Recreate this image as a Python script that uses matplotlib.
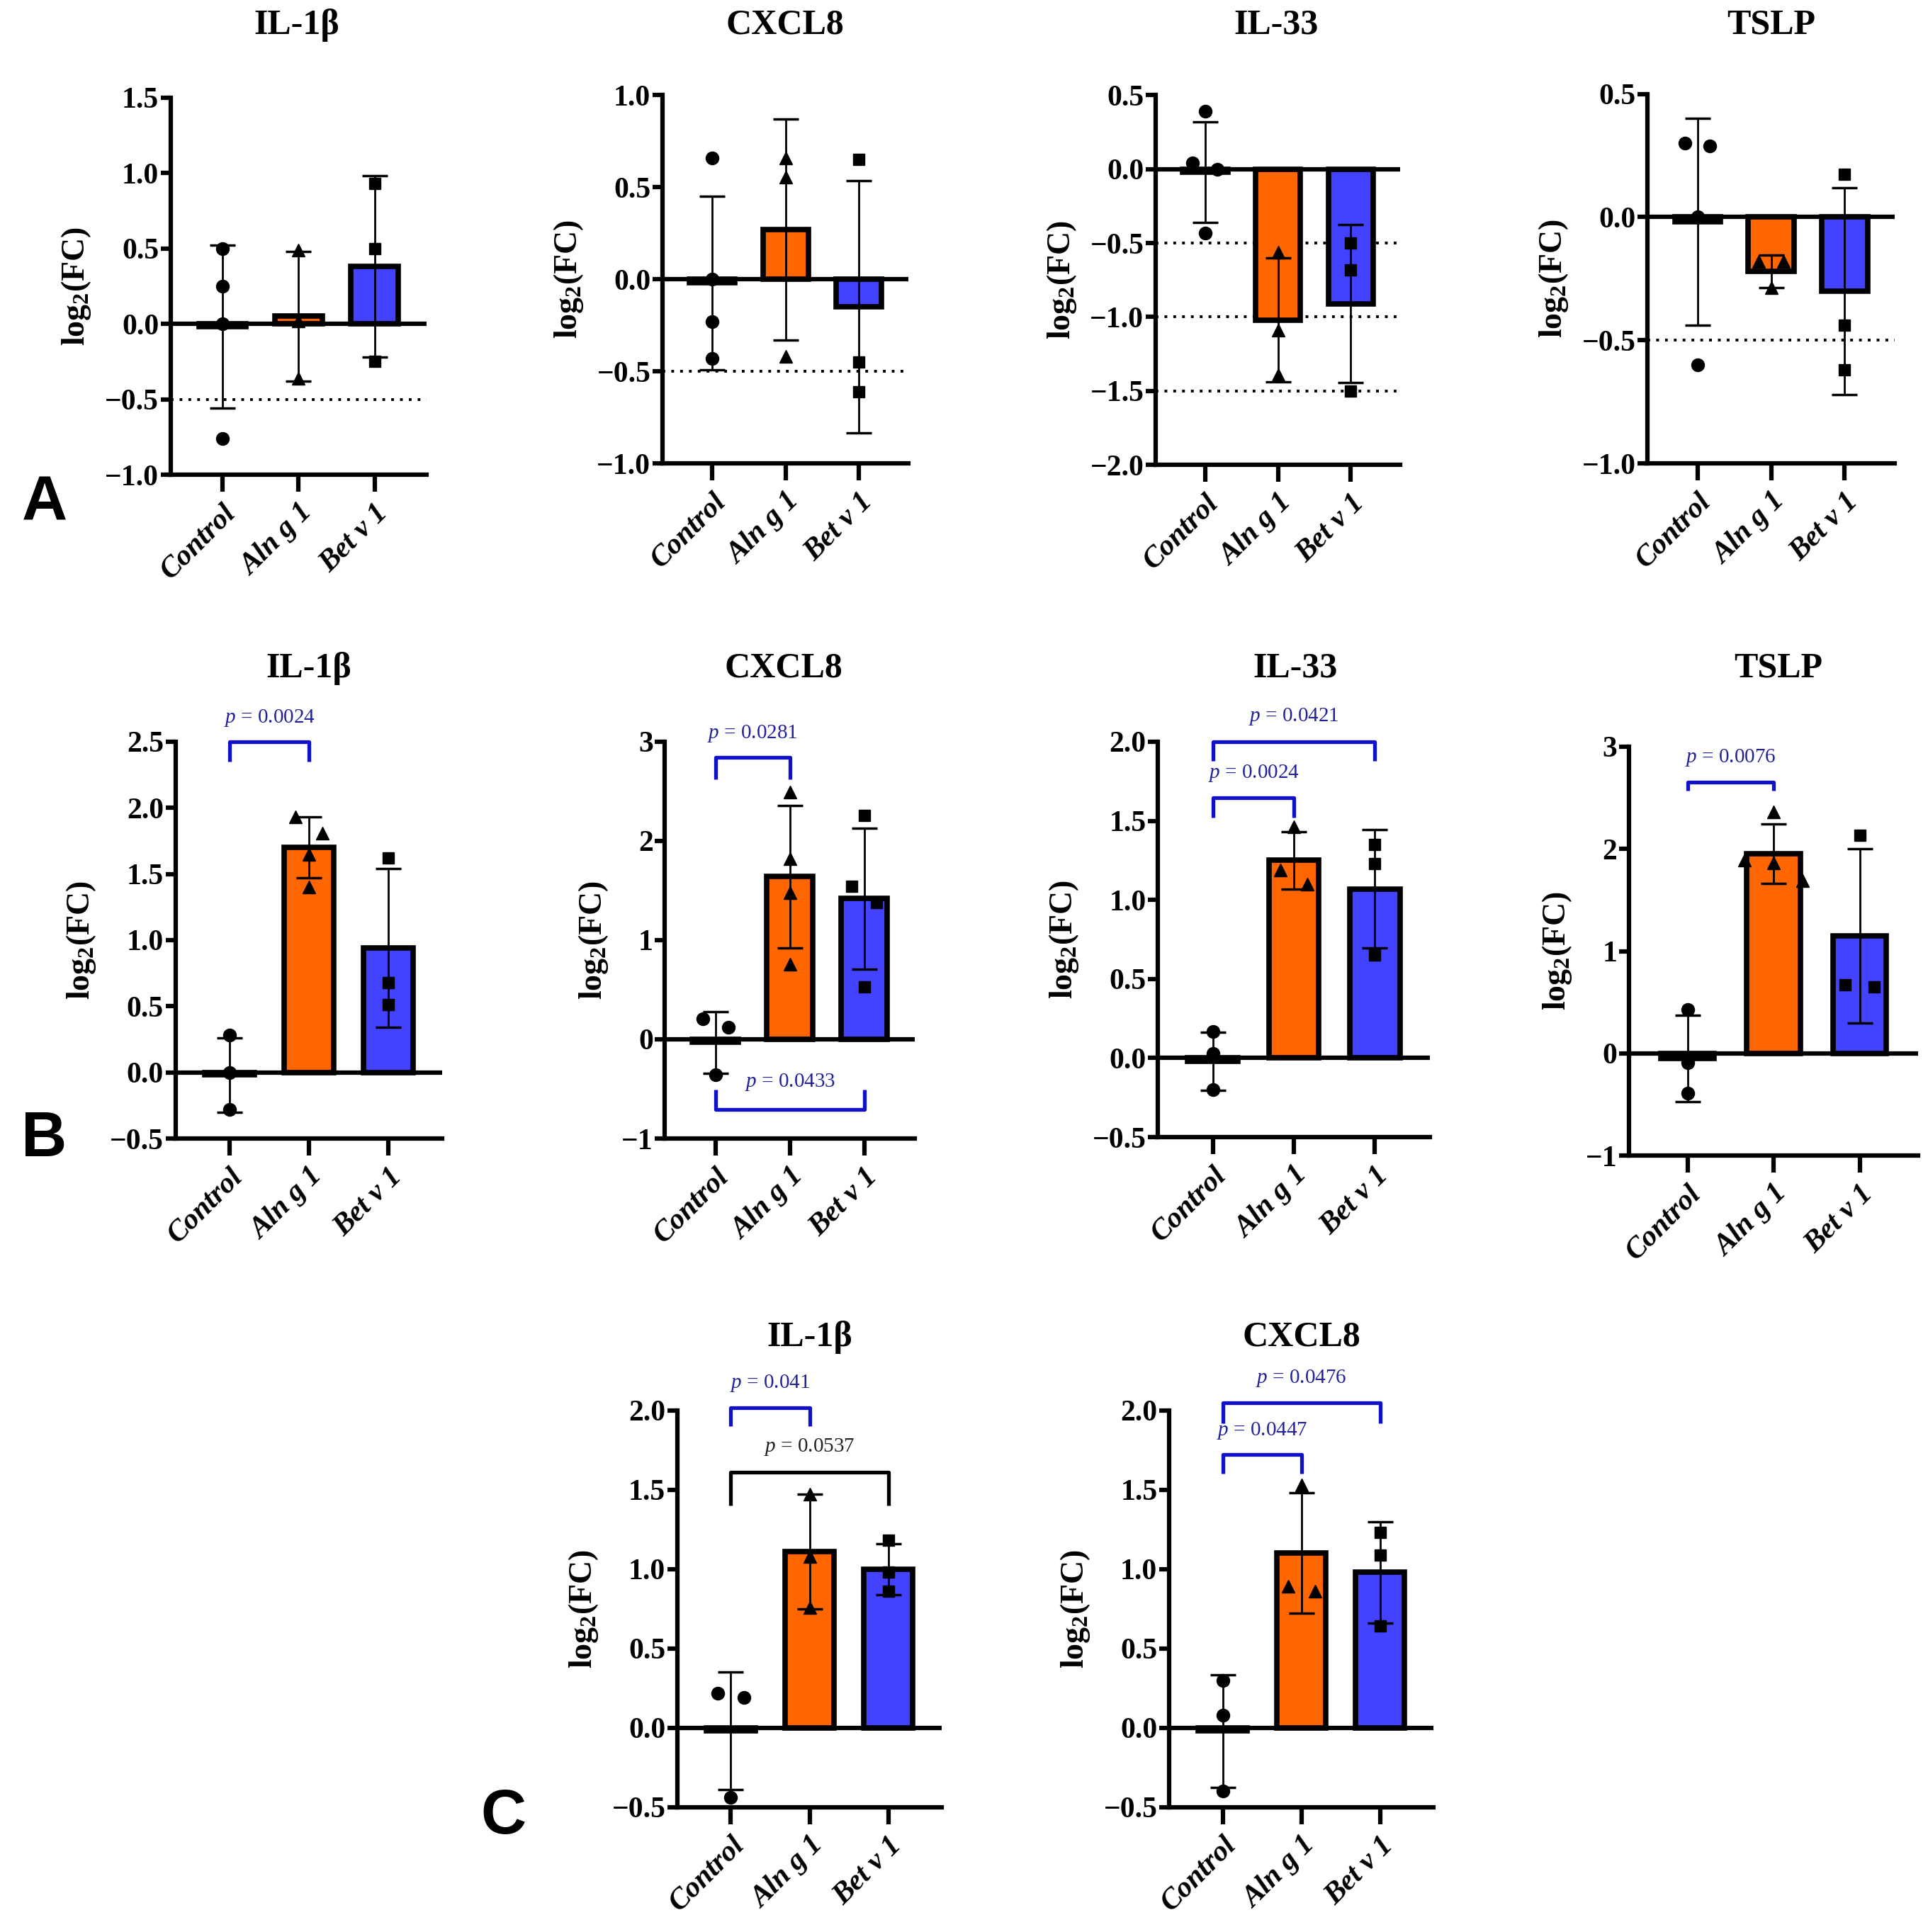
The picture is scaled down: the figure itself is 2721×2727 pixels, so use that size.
import matplotlib
matplotlib.use('Agg')
import matplotlib.pyplot as plt
import numpy as np

groups = ['Control', 'Aln g 1', 'Bet v 1']

# ---- row A ----
a_il1b_mean = [-0.02, 0.05, 0.38]
a_il1b_sd = [0.54, 0.43, 0.60]
a_il1b_pts = [[0.50, 0.25, 0.0, -0.76], [0.49, 0.02, -0.36], [0.93, 0.50, -0.25]]

a_cxcl8_mean = [-0.02, 0.27, -0.15]
a_cxcl8_sd = [0.47, 0.60, 0.685]
a_cxcl8_pts = [[0.66, 0.0, -0.23, -0.43], [0.66, 0.555, -0.42], [0.65, -0.45, -0.61]]

a_il33_mean = [-0.02, -1.02, -0.91]
a_il33_sd = [0.34, 0.42, 0.535]
a_il33_pts = [[0.39, 0.04, 0.0, -0.43], [-0.56, -1.09, -1.39], [-0.50, -0.68, -1.50]]

a_tslp_mean = [-0.02, -0.22, -0.30]
a_tslp_sd = [0.42, 0.065, 0.42]
a_tslp_pts = [[0.30, 0.29, 0.0, -0.60], [-0.18, -0.18, -0.285], [0.175, -0.44, -0.62]]

# ---- row B ----
b_il1b_mean = [-0.02, 1.70, 0.94]
b_il1b_sd = [0.28, 0.23, 0.60]
b_il1b_pts = [[0.28, 0.0, -0.28], [1.93, 1.81, 1.65, 1.40], [1.62, 0.68, 0.51]]

b_cxcl8_mean = [-0.03, 1.64, 1.42]
b_cxcl8_sd = [0.31, 0.72, 0.71]
b_cxcl8_pts = [[0.21, 0.12, -0.36], [2.49, 1.82, 1.48, 0.76], [2.26, 1.54, 1.38, 0.53]]

b_il33_mean = [-0.02, 1.25, 1.07]
b_il33_sd = [0.185, 0.18, 0.375]
b_il33_pts = [[0.17, 0.03, -0.20], [1.46, 1.19, 1.10], [1.35, 1.23, 0.65]]

b_tslp_mean = [-0.05, 1.95, 1.15]
b_tslp_sd = [0.42, 0.29, 0.85]
b_tslp_pts = [[0.43, -0.09, -0.39], [2.36, 1.89, 1.86, 1.69], [2.13, 0.67, 0.65]]

# ---- row C ----
c_il1b_mean = [-0.02, 1.11, 1.00]
c_il1b_sd = [0.37, 0.36, 0.16]
c_il1b_pts = [[0.22, 0.19, -0.44], [1.47, 1.08, 0.76], [1.18, 0.98, 0.86]]

c_cxcl8_mean = [-0.02, 1.10, 0.98]
c_cxcl8_sd = [0.355, 0.38, 0.32]
c_cxcl8_pts = [[0.30, 0.08, -0.40], [1.53, 0.89, 0.86], [1.23, 1.09, 0.64]]

# y axes: ticks and tick labels
ticks_a1 = [-1.0, -0.5, 0.0, 0.5, 1.0, 1.5]
labels_a1 = ['\u22121.0', '\u22120.5', '0.0', '0.5', '1.0', '1.5']
ticks_a2 = [-1.0, -0.5, 0.0, 0.5, 1.0]
labels_a2 = ['\u22121.0', '\u22120.5', '0.0', '0.5', '1.0']
ticks_a3 = [-2.0, -1.5, -1.0, -0.5, 0.0, 0.5]
labels_a3 = ['\u22122.0', '\u22121.5', '\u22121.0', '\u22120.5', '0.0', '0.5']
ticks_a4 = [-1.0, -0.5, 0.0, 0.5]
labels_a4 = ['\u22121.0', '\u22120.5', '0.0', '0.5']
ticks_half = [-0.5, 0.0, 0.5, 1.0, 1.5, 2.0]
labels_half = ['\u22120.5', '0.0', '0.5', '1.0', '1.5', '2.0']
ticks_b1 = [-0.5, 0.0, 0.5, 1.0, 1.5, 2.0, 2.5]
labels_b1 = ['\u22120.5', '0.0', '0.5', '1.0', '1.5', '2.0', '2.5']
ticks_int = [-1, 0, 1, 2, 3]
labels_int = ['\u22121', '0', '1', '2', '3']

# significance brackets: (from, to, level, leg, p value, colour, text level)
b_il1b_sig = [(0, 1, 2.50, 0.15, '0.0024', 'blue', 2.68)]
b_cxcl8_sig = [(0, 1, 2.84, 0.22, '0.0281', 'blue', 3.08),
               (0, 2, -0.71, -0.20, '0.0433', 'blue', -0.43)]
b_il33_sig = [(0, 1, 1.645, 0.125, '0.0024', 'blue', 1.80),
              (0, 2, 2.00, 0.12, '0.0421', 'blue', 2.16)]
b_tslp_sig = [(0, 1, 2.65, 0.08, '0.0076', 'blue', 2.89)]
c_il1b_sig = [(0, 1, 2.015, 0.115, '0.041', 'blue', 2.17),
              (0, 2, 1.61, 0.21, '0.0537', 'black', 1.77)]
c_cxcl8_sig = [(0, 1, 1.72, 0.12, '0.0447', 'blue', 1.87),
               (0, 2, 2.05, 0.13, '0.0476', 'blue', 2.20)]

fill_colors = ['white', '#FF6600', '#4242FF']
markers = ['o', '^', 's']
msizes = [13, 13, 11]
sig_colors = {'blue': '#1010C8', 'black': 'black'}
text_colors = {'blue': '#22229A', 'black': '#222222'}

plt.rcParams['font.family'] = ['Liberation Serif', 'DejaVu Serif']
plt.rcParams['font.weight'] = 'bold'
plt.rcParams['mathtext.fontset'] = 'custom'
plt.rcParams['mathtext.it'] = 'Liberation Serif:italic:normal'
plt.rcParams['mathtext.rm'] = 'Liberation Serif:normal'

SPINE = 4.5


def spread(vals, thr, step=0.34):
    # put points with nearly equal values side by side, higher one on the left
    order = np.argsort(vals)[::-1]
    offs = np.zeros(len(vals))
    clusters = [[order[0]]]
    for k in order[1:]:
        if vals[clusters[-1][-1]] - vals[k] < thr:
            clusters[-1].append(k)
        else:
            clusters.append([k])
    for cl in clusters:
        n = len(cl)
        for i, k in enumerate(cl):
            offs[k] = (i - (n - 1) / 2) * step
    return offs


def panel(fig, rect, title, title_xy, mean, sd, pts, ylim, ticks, labels,
          dotted=(), sig=()):
    ax = fig.add_axes(rect)
    x = np.arange(len(groups))
    ax.bar(x, mean, width=0.62, color=fill_colors, edgecolor='black',
           linewidth=5.5, zorder=2)
    ax.axhline(0, color='black', lw=SPINE, zorder=3)
    ax.errorbar(x, mean, yerr=sd, fmt='none', ecolor='black', elinewidth=2,
                capsize=13, capthick=2.5, zorder=4)
    rng = ylim[1] - ylim[0]
    for i, vals in enumerate(pts):
        vals = np.array(vals)
        offs = spread(vals, 0.045 * rng)
        ax.plot(x[i] + offs, vals, linestyle='none', marker=markers[i],
                ms=msizes[i], color='black', zorder=5)
    for yv in dotted:
        ax.axhline(yv, color='black', lw=2.8, ls=(0, (1, 2.2)), zorder=1)
    for (i, j, lev, leg, txt, col, ty) in sig:
        ax.plot([i, i, j, j], [lev - leg, lev, lev, lev - leg],
                color=sig_colors[col], lw=3.8, clip_on=False, zorder=6,
                solid_capstyle='butt')
        ax.text((i + j) / 2, ty, '$p$ = ' + txt, color=text_colors[col],
                fontsize=21, fontweight='normal', ha='center', va='center')
    ax.set_xlim(-0.68, 2.68)
    ax.set_ylim(ylim)
    ax.set_yticks(ticks)
    ax.set_yticklabels(labels)
    ax.set_xticks(x)
    ax.set_xticklabels(groups, rotation=45, ha='right', rotation_mode='anchor',
                       fontstyle='italic', fontweight='bold', fontsize=30)
    for s in ['top', 'right']:
        ax.spines[s].set_visible(False)
    for s in ['left', 'bottom']:
        ax.spines[s].set_linewidth(SPINE)
    ax.tick_params(axis='y', length=10, width=SPINE, labelsize=30, pad=2)
    ax.tick_params(axis='x', length=17, width=SPINE, pad=8)
    ax.set_ylabel('log$_\\mathregular{2}$(FC)', fontsize=33, fontweight='bold',
                  labelpad=12)
    fig.text(title_xy[0], title_xy[1], title, fontsize=36, fontweight='bold',
             ha='center', va='center')
    return ax


fig = plt.figure(figsize=(27.21, 27.27), dpi=100)

panel(fig, [0.0885, 0.7543, 0.1327, 0.1952], 'IL-1\u03b2', (0.154, 0.987),
      a_il1b_mean, a_il1b_sd, a_il1b_pts, (-1.0, 1.5), ticks_a1, labels_a1,
      dotted=[-0.5])
panel(fig, [0.3436, 0.7601, 0.1276, 0.1907], 'CXCL8', (0.407, 0.987),
      a_cxcl8_mean, a_cxcl8_sd, a_cxcl8_pts, (-1.0, 1.0), ticks_a2, labels_a2,
      dotted=[-0.5])
panel(fig, [0.5994, 0.7594, 0.1269, 0.1913], 'IL-33', (0.662, 0.987),
      a_il33_mean, a_il33_sd, a_il33_pts, (-2.0, 0.5), ticks_a3, labels_a3,
      dotted=[-0.5, -1.0, -1.5])
panel(fig, [0.8545, 0.7601, 0.1282, 0.1913], 'TSLP', (0.9186, 0.987),
      a_tslp_mean, a_tslp_sd, a_tslp_pts, (-1.0, 0.5), ticks_a4, labels_a4,
      dotted=[-0.5])

panel(fig, [0.0910, 0.4107, 0.1385, 0.2054], 'IL-1\u03b2', (0.1603, 0.654),
      b_il1b_mean, b_il1b_sd, b_il1b_pts, (-0.5, 2.5), ticks_b1, labels_b1,
      sig=b_il1b_sig)
panel(fig, [0.3449, 0.4107, 0.1295, 0.2054], 'CXCL8', (0.4064, 0.654),
      b_cxcl8_mean, b_cxcl8_sd, b_cxcl8_pts, (-1, 3), ticks_int, labels_int,
      sig=b_cxcl8_sig)
panel(fig, [0.6006, 0.4114, 0.1410, 0.2047], 'IL-33', (0.6718, 0.654),
      b_il33_mean, b_il33_sd, b_il33_pts, (-0.5, 2.0), ticks_half, labels_half,
      sig=b_il33_sig)
panel(fig, [0.8449, 0.4018, 0.1500, 0.2118], 'TSLP', (0.9224, 0.654),
      b_tslp_mean, b_tslp_sd, b_tslp_pts, (-1, 3), ticks_int, labels_int,
      sig=b_tslp_sig)

panel(fig, [0.3513, 0.0646, 0.1372, 0.2054], 'IL-1\u03b2', (0.4199, 0.308),
      c_il1b_mean, c_il1b_sd, c_il1b_pts, (-0.5, 2.0), ticks_half, labels_half,
      sig=c_il1b_sig)
panel(fig, [0.6064, 0.0646, 0.1372, 0.2054], 'CXCL8', (0.675, 0.308),
      c_cxcl8_mean, c_cxcl8_sd, c_cxcl8_pts, (-0.5, 2.0), ticks_half, labels_half,
      sig=c_cxcl8_sig)

for letter, xy in [('A', (0.023, 0.739)), ('B', (0.023, 0.41)), ('C', (0.261, 0.0595))]:
    fig.text(xy[0], xy[1], letter, fontsize=64, fontweight='bold',
             family='Liberation Sans', ha='center', va='center')

fig.savefig('out.png', dpi=100)
plt.close(fig)
